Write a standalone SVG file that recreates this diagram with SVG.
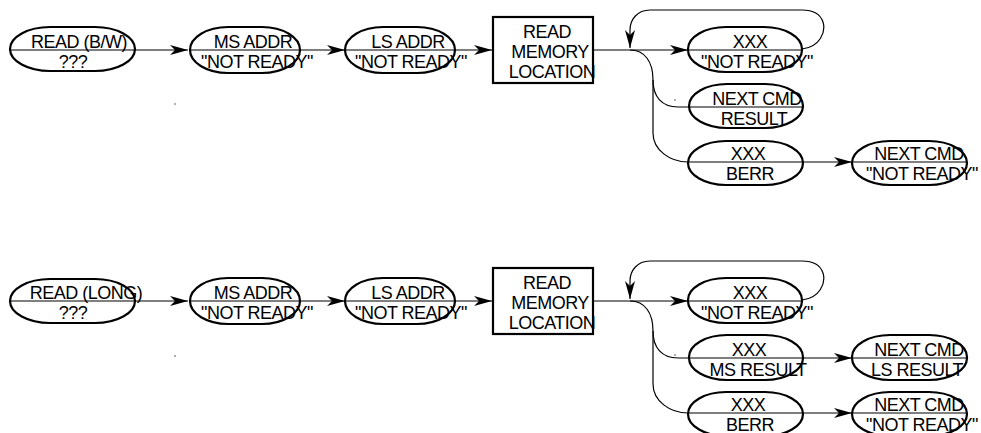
<svg xmlns="http://www.w3.org/2000/svg" width="981" height="433" viewBox="0 0 981 433">
<style>
.n{fill:none;stroke:#000;stroke-width:2.2}
.c{fill:none;stroke:#000;stroke-width:1.2}
.a{marker-end:url(#ah)}
text{font-family:"Liberation Sans",Arial,sans-serif;font-size:18px;letter-spacing:-0.5px;fill:#000;text-anchor:middle}
.d{fill:#444}
</style>
<defs>
<marker id="ah" markerUnits="userSpaceOnUse" markerWidth="20" markerHeight="12" refX="18" refY="5" orient="auto">
<path d="M0,0 L18,5 L0,10 L5,5 z" fill="#000"/>
</marker>
</defs>
<g id="connectors">
<path class="c a" d="M10,50 H188"/>
<path class="c a" d="M190,50 H345"/>
<path class="c a" d="M345,50 H492"/>
<path class="c a" d="M593,50 H688"/>
<path class="c" d="M688,50 H802"/>
<path class="c a" d="M802,49 C820,47 826,32 823,22 C820,13 812,10 802,10 L650,10 C637,10 630,20 630,30 L630,48"/>
<path class="c" d="M630,50 C645,50 653,62 653,80 L653,133 C653,150 670,162 688,162"/>
<path class="c" d="M653,80 C653,97 662,107 678,107 L803,107"/>
<path class="c" d="M688,162 H803"/>
<path class="c a" d="M803,162 H852"/>
<path class="c" d="M852,162 H967"/>

<path class="c a" d="M10,301 H188"/>
<path class="c a" d="M190,301 H345"/>
<path class="c a" d="M345,301 H492"/>
<path class="c a" d="M593,301 H688"/>
<path class="c" d="M688,301 H802"/>
<path class="c a" d="M802,300 C820,298 826,283 823,273 C820,264 812,261 802,261 L650,261 C637,261 630,271 630,281 L630,299"/>
<path class="c" d="M630,301 C645,301 653,313 653,331 L653,384 C653,401 670,413 688,413"/>
<path class="c" d="M653,331 C653,348 662,358 678,358 L803,358"/>
<path class="c a" d="M803,358 H852"/>
<path class="c" d="M852,358 H967"/>
<path class="c" d="M688,413 H803"/>
<path class="c a" d="M803,413 H852"/>
<path class="c" d="M852,413 H967"/>
</g>
<circle class="d" cx="175" cy="104" r="0.8"/>
<circle class="d" cx="675" cy="100" r="0.8"/>
<circle class="d" cx="175" cy="356" r="0.8"/>
<circle class="d" cx="675" cy="355" r="0.8"/>

<g id="t1"><rect class="n" x="10" y="27" width="125" height="44" rx="40" ry="22"/><text x="79" y="48">READ (B/W)</text><text x="73" y="68">???</text></g>
<g id="t2"><rect class="n" x="190" y="27" width="110" height="46" rx="38" ry="23"/><text x="253" y="48">MS ADDR</text><text x="257" y="68">"NOT READY"</text></g>
<g id="t3"><rect class="n" x="345" y="27" width="110" height="46" rx="38" ry="23"/><text x="408" y="48">LS ADDR</text><text x="411" y="68">"NOT READY"</text></g>
<g id="t4"><rect class="n" x="493" y="17" width="100" height="66"/><text x="547" y="38">READ</text><text x="550" y="58">MEMORY</text><text x="552" y="78">LOCATION</text></g>
<g id="t5"><rect class="n" x="688" y="27" width="114" height="45" rx="38" ry="22"/><text x="750" y="48">XXX</text><text x="757" y="68">"NOT READY"</text></g>
<g id="t6"><rect class="n" x="689" y="84" width="114" height="44" rx="38" ry="22"/><text x="757" y="105">NEXT CMD</text><text x="754" y="125">RESULT</text></g>
<g id="t7"><rect class="n" x="688" y="141" width="115" height="44" rx="38" ry="22"/><text x="748" y="160">XXX</text><text x="750" y="180">BERR</text></g>
<g id="t8"><rect class="n" x="852" y="141" width="115" height="44" rx="38" ry="22"/><text x="919" y="160">NEXT CMD</text><text x="922" y="180">"NOT READY"</text></g>

<g id="b1"><rect class="n" x="10" y="279" width="125" height="44" rx="40" ry="22"/><text x="86" y="299">READ (LONG)</text><text x="73" y="319">???</text></g>
<g id="b2"><rect class="n" x="190" y="278" width="110" height="46" rx="38" ry="23"/><text x="253" y="299">MS ADDR</text><text x="257" y="319">"NOT READY"</text></g>
<g id="b3"><rect class="n" x="345" y="278" width="110" height="46" rx="38" ry="23"/><text x="408" y="299">LS ADDR</text><text x="411" y="319">"NOT READY"</text></g>
<g id="b4"><rect class="n" x="493" y="268" width="100" height="66"/><text x="547" y="289">READ</text><text x="550" y="309">MEMORY</text><text x="552" y="329">LOCATION</text></g>
<g id="b5"><rect class="n" x="688" y="278" width="114" height="45" rx="38" ry="22"/><text x="750" y="299">XXX</text><text x="757" y="319">"NOT READY"</text></g>
<g id="b6"><rect class="n" x="689" y="335" width="114" height="45" rx="38" ry="22"/><text x="749" y="356">XXX</text><text x="758" y="376">MS RESULT</text></g>
<g id="b7"><rect class="n" x="852" y="335" width="115" height="45" rx="38" ry="22"/><text x="919" y="356">NEXT CMD</text><text x="917" y="376">LS RESULT</text></g>
<g id="b8"><rect class="n" x="688" y="392" width="115" height="44" rx="38" ry="22"/><text x="748" y="411">XXX</text><text x="750" y="431">BERR</text></g>
<g id="b9"><rect class="n" x="852" y="392" width="115" height="44" rx="38" ry="22"/><text x="919" y="411">NEXT CMD</text><text x="922" y="431">"NOT READY"</text></g>
</svg>
